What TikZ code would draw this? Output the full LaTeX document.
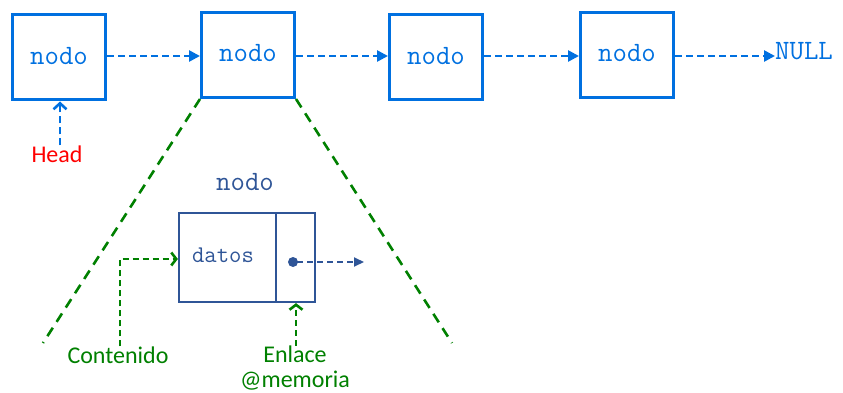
\documentclass[tikz,border=0pt]{standalone}
\usepackage{fontspec}
\setmainfont{Carlito}
\usetikzlibrary{arrows.meta}
\definecolor{lblue}{RGB}{0,112,224}
\definecolor{dblue}{RGB}{47,85,151}
\definecolor{lgreen}{RGB}{0,128,0}
\definecolor{lred}{RGB}{255,0,0}
\tikzset{
  monotext/.style={font=\ttfamily\fontsize{28}{32}\selectfont},
  listbox/.style={draw=lblue, line width=3pt, minimum width=93pt, minimum height=85pt, inner sep=0pt, text=lblue, monotext},
  bluearrow/.style={draw=lblue, line width=2.6pt, dash pattern=on 7pt off 4pt, -{Triangle[length=11pt,width=11pt]}},
  headarrow/.style={draw=lblue, line width=2.6pt, dash pattern=on 7pt off 4pt, -{Straight Barb[length=6pt,width=13pt,line width=2.6pt]}},
  greenline/.style={draw=lgreen, line width=2.6pt, dash pattern=on 10pt off 7pt},
  greenarrow/.style={draw=lgreen, line width=2.6pt, dash pattern=on 6pt off 4pt, -{Straight Barb[length=5pt,width=13pt,line width=2.6pt]}},
  darrow/.style={draw=dblue, line width=2pt, dash pattern=on 6pt off 4pt, -{Triangle[length=10pt,width=9pt]}},
  lbl/.style={inner sep=0pt, font=\fontsize{24}{28}\selectfont},
}
\begin{document}
\begin{tikzpicture}[x=1pt,y=-1pt]
\useasboundingbox (0,0) rectangle (843,393);
% top list
\node[listbox] (b1) at (59,57.5) {\raisebox{4pt}{nodo}};
\node[listbox] (b2) at (248,55) {\raisebox{4pt}{nodo}};
\node[listbox] (b3) at (436,57.5) {\raisebox{4pt}{nodo}};
\node[listbox] (b4) at (627,55) {\raisebox{4pt}{nodo}};
\node[inner sep=0pt, text=lblue, monotext, anchor=west] (null) at (775,51) {NULL};
\draw[bluearrow] (b1.east |- 0,56) -- (b2.west |- 0,56);
\draw[bluearrow] (b2.east |- 0,56) -- (b3.west |- 0,56);
\draw[bluearrow] (b3.east |- 0,56) -- (b4.west |- 0,56);
\draw[bluearrow] (b4.east |- 0,56) -- (null.west |- 0,56);
% head
\node[lbl, text=lred] (head) at (57,154) {Head};
\draw[headarrow] (head.north -| 60,0) -- (b1.south -| 60,0);
% zoom lines
\coordinate (zl) at (43,343);
\coordinate (zr) at (452,343);
\draw[greenline] (b2.south west) -- (zl);
\draw[greenline] (b2.south east) -- (zr);
% inner node
\node[inner sep=0pt, text=dblue, monotext] (title) at (245,182) {nodo};
\node[draw=dblue, line width=2.2pt, minimum width=97pt, minimum height=89pt, inner sep=0pt] (data) at (227.5,257.5) {};
\node[draw=dblue, line width=2.2pt, minimum width=39pt, minimum height=89pt, inner sep=0pt] (link) at (295.5,257.5) {};
\node[inner sep=0pt, text=dblue, font=\ttfamily\fontsize{24}{28}\selectfont] (datos) at (223,255) {datos};
\fill[dblue] (293,262) circle (5pt) coordinate (dot);
\coordinate (ptr) at (364,262);
\draw[darrow] (dot) ++(4,0) -- (ptr);
% labels
\node[lbl, text=lgreen] (cont) at (118,355) {Contenido};
\draw[greenarrow] (cont.north -| 120,0) -- (120,259) -- (data.west |- 0,259);
\node[lbl, text=lgreen, align=center, font=\fontsize{24}{25}\selectfont] (enl) at (295,368) {Enlace\\@memoria};
\draw[greenarrow] (enl.north -| 296,0) -- (link.south -| 296,0);
\end{tikzpicture}
\end{document}
